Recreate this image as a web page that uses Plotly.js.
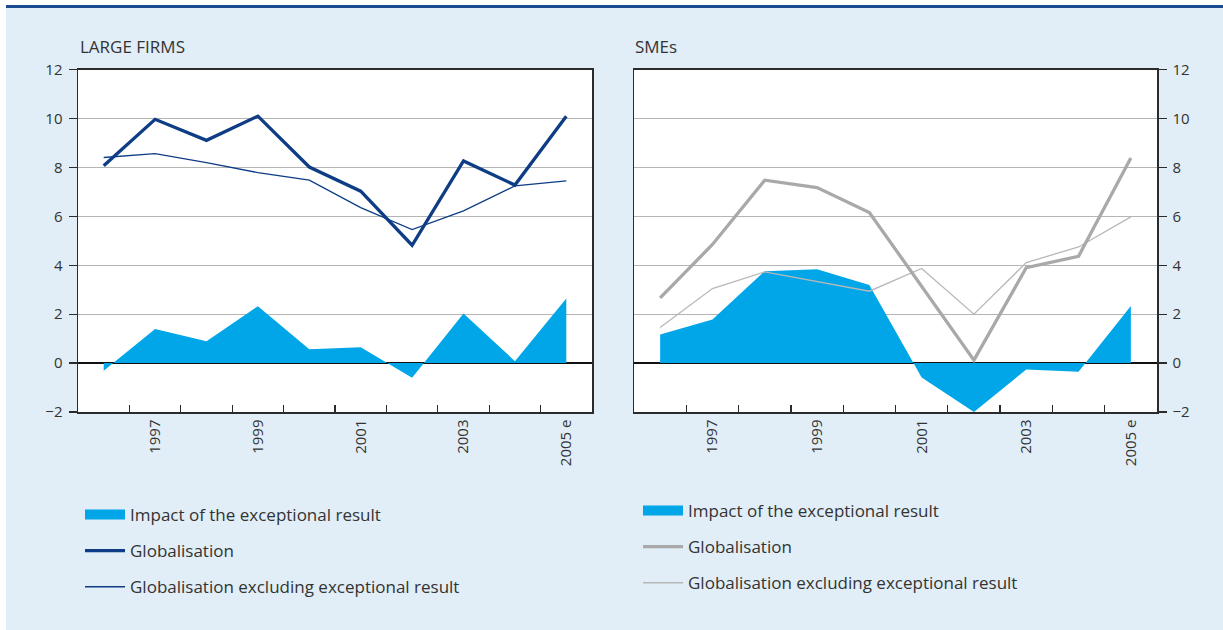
<!DOCTYPE html>
<html>
<head>
<meta charset="utf-8">
<script src="https://cdn.plot.ly/plotly-3.0.1.min.js"></script>
<style>
html,body{margin:0;padding:0;background:#fff;}
#chart{width:1223px;height:630px;}
</style>
</head>
<body>
<div id="chart"></div>
<script>
// ---- data ----
const years = [1996, 1997, 1998, 1999, 2000, 2001, 2002, 2003, 2004, 2005];
const tickYears = [1997, 1999, 2001, 2003, 2005];
const tickLabels = ['1997', '1999', '2001', '2003', '2005 e'];
const yearBoundaries = [1996.5, 1997.5, 1998.5, 1999.5, 2000.5, 2001.5, 2002.5, 2003.5, 2004.5];

const largeGlobalisation = [8.07, 9.97, 9.11, 10.1, 8.02, 7.03, 4.82, 8.27, 7.28, 10.1];
const largeExcluding     = [8.41, 8.57, 8.2, 7.79, 7.48, 6.36, 5.46, 6.23, 7.25, 7.45];
const largeImpact        = [-0.31, 1.39, 0.89, 2.33, 0.57, 0.65, -0.6, 2.03, 0.08, 2.64];

const smeGlobalisation = [2.67, 4.85, 7.48, 7.18, 6.16, 3.13, 0.12, 3.9, 4.37, 8.39];
const smeExcluding     = [1.46, 3.05, 3.73, 3.32, 2.94, 3.87, 2.0, 4.11, 4.75, 5.98];
const smeImpact        = [1.17, 1.78, 3.76, 3.84, 3.19, -0.59, -2.0, -0.26, -0.35, 2.34];

const panelTitles = ['LARGE FIRMS', 'SMEs'];
const legendNames = ['Impact of the exceptional result', 'Globalisation', 'Globalisation excluding exceptional result'];

// ---- styles ----
const W = 1223, H = 630;
const FONT = '"Open Sans", "Noto Sans", sans-serif';
const TXT = '#333333';
const CYAN = '#00a6e8';
const NAVY = '#0e3d86';
const GREY_THICK = '#a9a9a9';
const GREY_THIN = '#b8b8b8';

function px(x) { return x / W; }
function py(y) { return 1 - y / H; }

const traces = [
  // Large firms
  {x: years, y: largeImpact, xaxis: 'x', yaxis: 'y', type: 'scatter', mode: 'lines', fill: 'tozeroy',
   fillcolor: CYAN, line: {width: 0, color: CYAN}, showlegend: false, hoverinfo: 'skip'},
  {x: years, y: largeExcluding, xaxis: 'x', yaxis: 'y', type: 'scatter', mode: 'lines',
   line: {width: 1.3, color: NAVY}, showlegend: false},
  {x: years, y: largeGlobalisation, xaxis: 'x', yaxis: 'y', type: 'scatter', mode: 'lines',
   line: {width: 3.3, color: NAVY}, showlegend: false},
  // SMEs
  {x: years, y: smeImpact, xaxis: 'x2', yaxis: 'y2', type: 'scatter', mode: 'lines', fill: 'tozeroy',
   fillcolor: CYAN, line: {width: 0, color: CYAN}, showlegend: false, hoverinfo: 'skip'},
  {x: years, y: smeExcluding, xaxis: 'x2', yaxis: 'y2', type: 'scatter', mode: 'lines',
   line: {width: 1.3, color: GREY_THIN}, showlegend: false},
  {x: years, y: smeGlobalisation, xaxis: 'x2', yaxis: 'y2', type: 'scatter', mode: 'lines',
   line: {width: 3.3, color: GREY_THICK}, showlegend: false},
];

// legend entries
const legendStyles = [
  [{color: CYAN, width: 23}, {color: NAVY, width: 3.3}, {color: NAVY, width: 1.3}],
  [{color: CYAN, width: 23}, {color: GREY_THICK, width: 3.3}, {color: GREY_THIN, width: 1.3}]
];
['legend', 'legend2'].forEach((lg, p) => {
  legendNames.forEach((name, i) => {
    traces.push({x: [null], y: [null], type: 'scatter', mode: 'lines', name: name,
      xaxis: p ? 'x2' : 'x', yaxis: p ? 'y2' : 'y',
      line: legendStyles[p][i], legend: lg, legendgroup: lg + i, showlegend: true});
  });
});

const yDomain = [py(412), py(69.7)];

function xAxis(domain, anchor) {
  return {
    domain: domain, anchor: anchor, range: [1995.5, 2005.5],
    tickmode: 'array', tickvals: tickYears, ticktext: tickLabels, tickangle: -90,
    ticks: '', showgrid: false, zeroline: false,
    showline: true, mirror: true, linecolor: '#2b2b2b', linewidth: 1.5,
    tickfont: {family: FONT, size: 15, color: TXT},
    minor: {tickmode: 'array', tickvals: yearBoundaries, ticks: 'inside', ticklen: 7,
            tickwidth: 1.3, tickcolor: '#2b2b2b', showgrid: false},
    fixedrange: true
  };
}
function yAxis(anchor, side) {
  return {
    domain: yDomain, anchor: anchor, side: side, range: [-2, 12],
    tickmode: 'linear', tick0: -2, dtick: 2,
    ticks: 'outside', ticklen: 8, tickwidth: 1.3, tickcolor: '#2b2b2b',
    showgrid: true, gridcolor: '#b5b5b5', gridwidth: 1.2,
    zeroline: true, zerolinecolor: '#111111', zerolinewidth: 1.5,
    showline: true, mirror: true, linecolor: '#2b2b2b', linewidth: 1.5,
    tickfont: {family: FONT, size: 15, color: TXT}, ticklabelstandoff: 3,
    fixedrange: true
  };
}

const legendCommon = {xanchor: 'left', yanchor: 'top', bgcolor: 'rgba(0,0,0,0)',
  font: {family: FONT, size: 17, color: TXT}, traceorder: 'grouped', tracegroupgap: 11, itemwidth: 40};

const layout = {
  width: W, height: H,
  margin: {l: 0, r: 0, t: 0, b: 0},
  paper_bgcolor: '#e1eef7', plot_bgcolor: '#ffffff',
  font: {family: FONT, color: TXT},
  xaxis: xAxis([px(78), px(592)], 'y'),
  yaxis: yAxis('x', 'left'),
  xaxis2: xAxis([px(634), px(1157)], 'y2'),
  yaxis2: yAxis('x2', 'right'),
  showlegend: true,
  legend: Object.assign({x: px(80), y: py(497)}, legendCommon),
  legend2: Object.assign({x: px(638), y: py(493)}, legendCommon),
  annotations: panelTitles.map((t, i) => ({
    text: t, xref: 'paper', yref: 'paper', x: px(i ? 633 : 78), y: py(47),
    xanchor: 'left', yanchor: 'middle', showarrow: false,
    font: {family: FONT, size: 17, color: TXT}
  })),
  shapes: [
    {type: 'rect', xref: 'paper', yref: 'paper', x0: 0, x1: px(6), y0: 0, y1: 1,
     fillcolor: '#ffffff', line: {width: 0}, layer: 'below'},
    {type: 'rect', xref: 'paper', yref: 'paper', x0: 0, x1: 1, y0: py(5), y1: 1,
     fillcolor: '#ffffff', line: {width: 0}, layer: 'below'},
    {type: 'line', xref: 'paper', yref: 'paper', x0: px(6), x1: 1, y0: py(6.5), y1: py(6.5),
     line: {color: '#1d4b92', width: 3}, layer: 'below'}
  ]
};

Plotly.newPlot('chart', traces, layout, {staticPlot: true, displayModeBar: false});
</script>
</body>
</html>
